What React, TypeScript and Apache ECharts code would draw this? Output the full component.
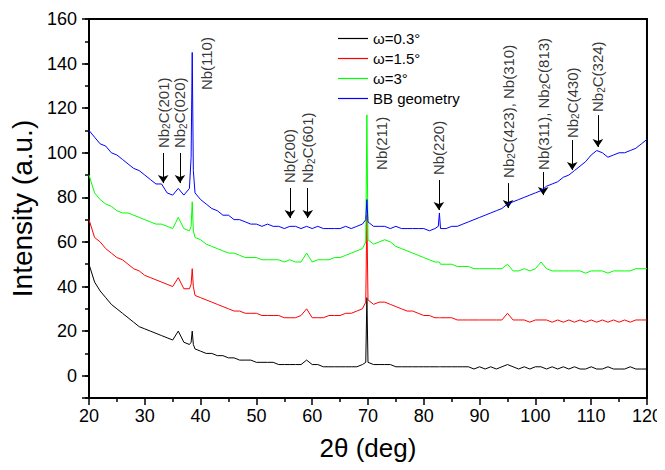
import React, { useEffect, useRef } from "react";
import * as echarts from "echarts";

const X = [
  20, 21, 22, 23, 24, 25, 26, 27, 28, 29, 30, 31, 32, 33, 34, 35, 36, 37, 38, 38.3, 38.5, 38.7, 39,
  40, 41, 42, 43, 44, 45, 46, 47, 48, 49, 50, 51, 52, 53, 54, 55, 56, 57, 58, 59,
  60, 61, 62, 63, 64, 65, 66, 67, 68, 69, 69.6, 69.8, 70, 71, 72, 73, 74, 75, 76, 77, 78, 79,
  80, 81, 82, 82.6, 82.8, 83, 84, 85, 86, 87, 88, 89, 90, 91, 92, 93, 94, 95, 96, 97, 98, 99,
  100, 101, 102, 103, 104, 105, 106, 107, 108, 109, 110, 111, 112, 113, 114, 115, 116, 117, 118, 119, 120,
];

const BLACK = [
  50, 42, 38, 35, 32, 30, 28, 26, 24, 22, 21, 20, 19, 18, 17, 16, 20, 15, 14, 15, 20, 14, 12,
  11, 10, 10, 9, 9, 8, 8, 7, 7, 7, 6, 6, 6, 6, 5, 5, 5, 5, 5, 7,
  5, 5, 4, 4, 4, 4, 4, 4, 4, 5, 6, 35, 6, 5, 5, 5, 5, 4, 4, 4, 4, 4,
  4, 4, 4, 4, 4, 4, 4, 4, 4, 4, 4, 3, 4, 3, 4, 3, 4, 5, 4, 3, 4, 3,
  4, 4, 3, 4, 3, 4, 3, 4, 3, 3, 4, 3, 3, 4, 3, 3, 3, 4, 3, 3, 3,
];

const RED = [
  70, 62, 60, 57, 55, 53, 52, 50, 48, 47, 45, 44, 43, 42, 41, 40, 44, 39, 39, 41, 48, 40, 36,
  35, 34, 33, 32, 31, 30, 29, 29, 28, 28, 28, 27, 27, 27, 27, 26, 26, 26, 27, 30,
  26, 26, 26, 27, 27, 27, 28, 28, 29, 30, 33, 72, 34, 32, 33, 33, 32, 31, 30, 29, 29, 28,
  27, 27, 26, 26, 26, 26, 26, 26, 25, 25, 25, 25, 25, 25, 25, 25, 25, 28, 25, 25, 25, 24,
  25, 25, 25, 24, 25, 24, 25, 24, 25, 24, 25, 24, 25, 24, 25, 24, 25, 24, 25, 25, 25,
];

const GREEN = [
  90, 82, 79, 77, 76, 74, 73, 73, 72, 71, 70, 69, 68, 68, 67, 66, 71, 66, 65, 67, 78, 65, 62,
  61, 59, 58, 57, 56, 55, 55, 54, 53, 53, 53, 52, 52, 52, 52, 51, 52, 51, 51, 55,
  51, 52, 52, 52, 53, 53, 54, 55, 56, 57, 60, 117, 61, 59, 60, 61, 60, 58, 57, 56, 55, 54,
  53, 52, 51, 51, 51, 50, 50, 50, 49, 49, 49, 48, 48, 48, 48, 48, 48, 50, 47, 47, 48, 47,
  48, 51, 48, 47, 47, 47, 47, 47, 47, 46, 47, 47, 47, 46, 47, 47, 47, 47, 48, 48, 48,
];

const BLUE = [
  110, 107, 104, 103, 100, 99, 97, 95, 93, 92, 90, 88, 86, 86, 82, 81, 84, 81, 84, 98, 145, 92, 82,
  79, 77, 75, 74, 72, 72, 70, 70, 69, 68, 68, 67, 68, 67, 67, 66, 67, 67, 66, 67,
  66, 67, 66, 66, 66, 66, 67, 66, 67, 68, 70, 79, 69, 67, 67, 67, 66, 67, 66, 66, 66, 66,
  66, 65, 66, 67, 73, 66, 66, 67, 67, 68, 69, 70, 71, 72, 73, 74, 75, 77, 78, 79, 80, 81,
  82, 83, 85, 86, 87, 89, 90, 92, 94, 96, 99, 101, 100, 98, 99, 100, 100, 101, 102, 104, 106,
];

const SERIES_NAMES = ["ω=0.3°", "ω=1.5°", "ω=3°", "BB geometry"];
const SERIES_DATA = [BLACK, RED, GREEN, BLUE];
const COLORS = ["#000000", "#ff0000", "#00ff00", "#0000ff"];

const ANNOT_TEXT = [
  "{n|Nb}{s|2}{n|C(201)}",
  "{n|Nb}{s|2}{n|C(020)}",
  "{n|Nb(110)}",
  "{n|Nb(200)}",
  "{n|Nb}{s|2}{n|C(601)}",
  "{n|Nb(211)}",
  "{n|Nb(220)}",
  "{n|Nb}{s|2}{n|C(423), Nb(310)}",
  "{n|Nb(311), Nb}{s|2}{n|C(813)}",
  "{n|Nb}{s|2}{n|C(430)}",
  "{n|Nb}{s|2}{n|C(324)}",
];
const ANNOT_X = [33.3, 36.3, 41.0, 56.0, 59.2, 72.5, 82.7, 95.1, 101.4, 106.6, 111.2];
const ANNOT_BASE = [102.1, 102.1, 128.1, 86.4, 86.4, 92.3, 90.0, 88.7, 92.3, 106.6, 118.3];
const ARROW_TOP: (number | null)[] = [99.9, 99.9, null, 84.2, 84.2, null, 87.8, 86.4, 91.4, 105.7, 116.9];
const ARROW_BOTTOM: (number | null)[] = [86.4, 86.4, null, 70.7, 70.7, null, 74.3, 75.2, 81.0, 92.3, 102.6];

const FONT = "Liberation Sans, Arial, Helvetica, sans-serif";

export default function App() {
  const ref = useRef<HTMLDivElement>(null);

  useEffect(() => {
    if (!ref.current) return;
    const chart = echarts.init(ref.current, undefined, { renderer: "svg" });

    const lineSeries = SERIES_NAMES.map((name, si) => ({
      name,
      type: "line",
      data: X.map((x, i) => [x, SERIES_DATA[si][i]]),
      showSymbol: false,
      symbol: "none",
      lineStyle: { color: COLORS[si], width: 1 },
      itemStyle: { color: COLORS[si] },
      silent: true,
      z: 2 + si,
    }));

    const arrows = ANNOT_X.map((x, i) =>
      ARROW_TOP[i] === null
        ? null
        : [{ coord: [x, ARROW_TOP[i]] }, { coord: [x, ARROW_BOTTOM[i]] }]
    ).filter((a) => a !== null);

    const annotSeries = {
      name: "annot",
      type: "scatter",
      symbolSize: 0.1,
      itemStyle: { color: "rgba(0,0,0,0)" },
      silent: true,
      z: 10,
      data: ANNOT_X.map((x, i) => ({
        value: [x, ANNOT_BASE[i]],
        label: { formatter: ANNOT_TEXT[i] },
      })),
      label: {
        show: true,
        position: "inside",
        rotate: 90,
        align: "left",
        verticalAlign: "middle",
        rich: {
          n: { fontSize: 15, fontFamily: FONT, color: "#000", lineHeight: 17 },
          s: { fontSize: 10, fontFamily: FONT, color: "#000", lineHeight: 10, verticalAlign: "bottom" },
        },
      },
      markLine: {
        silent: true,
        symbol: ["none", "arrow"],
        symbolSize: 8,
        label: { show: false },
        lineStyle: { color: "#000", width: 1, type: "solid" },
        emphasis: { disabled: true },
        data: arrows,
      },
    };

    chart.setOption({
      animation: false,
      backgroundColor: "#ffffff",
      textStyle: { fontFamily: FONT },
      grid: {
        left: 89,
        right: 18,
        top: 19,
        bottom: 72,
        show: true,
        borderColor: "#000",
        borderWidth: 2,
        backgroundColor: "transparent",
      },
      legend: {
        data: SERIES_NAMES,
        orient: "vertical",
        left: 333,
        top: 25,
        icon: "rect",
        itemWidth: 30,
        itemHeight: 1.2,
        itemGap: 3,
        textStyle: { fontSize: 15, color: "#000", fontFamily: FONT, lineHeight: 17 },
        selectedMode: false,
      },
      xAxis: {
        type: "value",
        min: 20,
        max: 120,
        interval: 10,
        name: "2θ (deg)",
        nameLocation: "middle",
        nameGap: 37,
        nameTextStyle: { fontSize: 26, color: "#000", fontFamily: FONT },
        axisLine: { show: true, onZero: false, lineStyle: { color: "#000", width: 2 } },
        axisTick: { show: true, length: 7, lineStyle: { color: "#000", width: 1.5 } },
        minorTick: { show: true, splitNumber: 2, length: 4, lineStyle: { color: "#000", width: 1.5 } },
        axisLabel: { fontSize: 18, color: "#000", margin: 9, fontFamily: FONT },
        splitLine: { show: false },
        minorSplitLine: { show: false },
      },
      yAxis: [
        {
          type: "value",
          min: -10,
          max: 160,
          splitNumber: 8,
          name: "Intensity (a.u.)",
          nameLocation: "middle",
          nameGap: 53,
          nameTextStyle: { fontSize: 28, color: "#000", fontFamily: FONT },
          axisLine: { show: true, onZero: false, lineStyle: { color: "#000", width: 2 } },
          axisTick: { show: true, length: 7, lineStyle: { color: "#000", width: 1.5 } },
          axisLabel: {
            fontSize: 18,
            color: "#000",
            margin: 12,
            fontFamily: FONT,
            formatter: (v: number) => (v < 0 ? "" : String(v)),
          },
          splitLine: { show: false },
        },
        {
          type: "value",
          min: -10,
          max: 160,
          interval: 10,
          position: "left",
          axisLine: { show: false, onZero: false },
          axisTick: { show: true, length: 4, lineStyle: { color: "#000", width: 1.5 } },
          axisLabel: { show: false },
          splitLine: { show: false },
        },
      ],
      series: [...lineSeries, annotSeries],
    });

    return () => chart.dispose();
  }, []);

  return <div ref={ref} style={{ width: 665, height: 470, margin: -8 }} />;
}
